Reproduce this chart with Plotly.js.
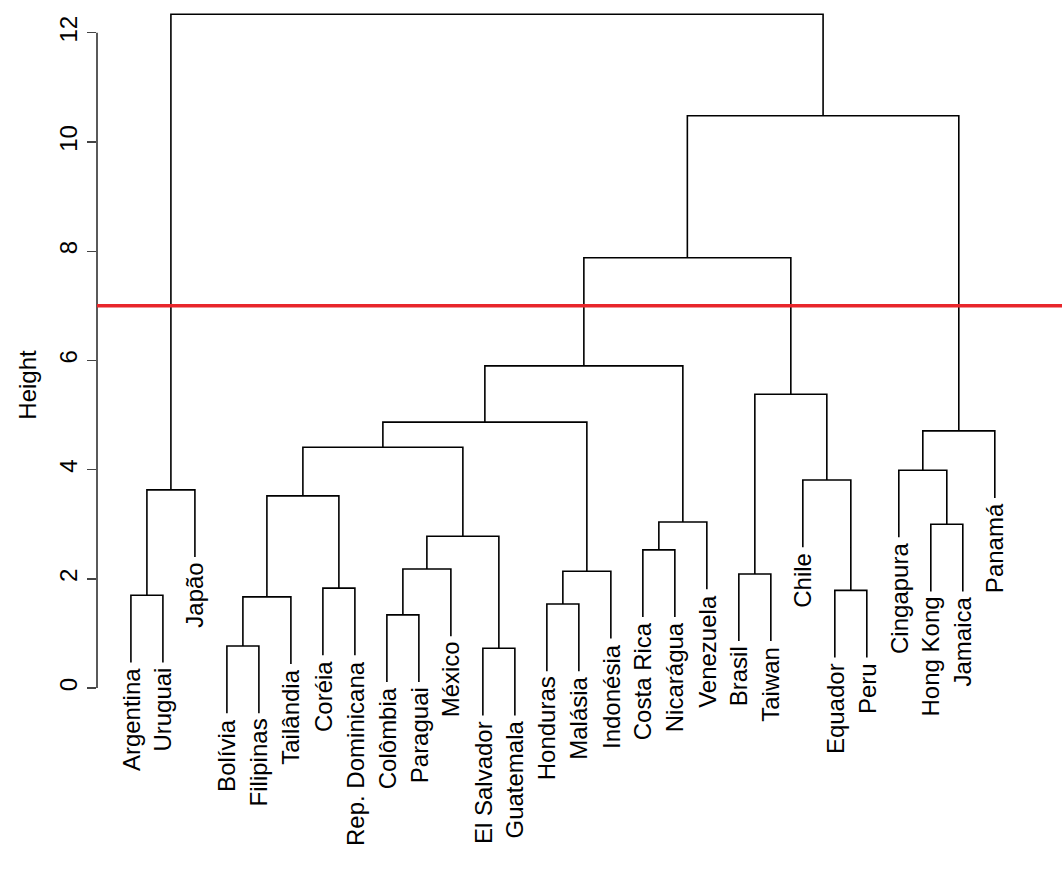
<!DOCTYPE html>
<html>
<head>
<meta charset="utf-8">
<script src="https://cdn.plot.ly/plotly-3.0.1.min.js"></script>
<style>body{margin:0;background:#fff}</style>
</head>
<body>
<div id="chart" style="width:1062px;height:870px"></div>
<script>
// leaf labels in plotted order
const leaves = ["Argentina", "Uruguai", "Japão", "Bolívia", "Filipinas", "Tailândia", "Coréia",
  "Rep. Dominicana", "Colômbia", "Paraguai", "México", "El Salvador", "Guatemala", "Honduras",
  "Malásia", "Indonésia", "Costa Rica", "Nicarágua", "Venezuela", "Brasil", "Taiwan", "Chile",
  "Equador", "Peru", "Cingapura", "Hong Kong", "Jamaica", "Panamá"];

// merges, R hclust style: negative = leaf, positive = earlier merge (1-based)
const mergeLeft  = [-1, 1, -4, 3, -7, 4, -9, 7, -12, 8, 6, -14, 12, 11, -17, 15, 14, -20, -23, -22, 18, 17, -26, -25, 24, 22, 2];
const mergeRight = [-2, -3, -5, -6, -8, 5, -10, -11, -13, 9, 10, -15, -16, 13, -18, -19, 16, -21, -24, 19, 20, 21, -27, 23, -28, 25, 26];
const mergeHeight = [1.70, 3.63, 0.77, 1.67, 1.83, 3.52, 1.34, 2.18, 0.73, 2.78, 4.41, 1.54, 2.14, 4.87,
  2.53, 3.04, 5.90, 2.09, 1.79, 3.81, 5.38, 7.88, 3.00, 3.99, 4.71, 10.48, 12.34];

const cutHeight = 7;
const hang = 1.23;

const nodeX = [], nodeY = [];
const xs = [], ys = [];
const leafBottom = new Array(leaves.length).fill(0);

function childPos(c, h) {
  if (c < 0) {
    const i = -c - 1;
    leafBottom[i] = h - hang;
    return [i + 1, h - hang];
  }
  return [nodeX[c - 1], nodeY[c - 1]];
}

mergeHeight.forEach((h, k) => {
  const [xl, yl] = childPos(mergeLeft[k], h);
  const [xr, yr] = childPos(mergeRight[k], h);
  xs.push(xl, xl, xr, xr, null);
  ys.push(yl, h, h, yr, null);
  nodeX.push((xl + xr) / 2);
  nodeY.push(h);
});

const font = { family: "Liberation Sans, Arial, sans-serif", size: 24, color: "#000" };

const annotations = leaves.map((name, i) => ({
  x: i + 1, y: leafBottom[i] - 0.06, text: name, textangle: -90,
  xanchor: "center", yanchor: "top", showarrow: false, font,
}));

Plotly.newPlot("chart", [
  { x: xs, y: ys, mode: "lines", line: { color: "#000", width: 1.6 }, hoverinfo: "skip", showlegend: false },
], {
  width: 1062, height: 870,
  margin: { l: 97, r: 0, t: 0, b: 100 },
  paper_bgcolor: "#fff", plot_bgcolor: "#fff",
  xaxis: { range: [-0.06, 30.1], visible: false },
  yaxis: {
    range: [-1.5, 12.6], tickvals: [0, 2, 4, 6, 8, 10, 12], ticks: "outside", ticklen: 9,
    tickwidth: 1.3, tickangle: -90, tickfont: font, showgrid: false, zeroline: false, showline: false,
    title: { text: "Height", font, standoff: 12 },
  },
  shapes: [
    { type: "line", xref: "paper", x0: 0, x1: 0, yref: "y", y0: 0, y1: 12, line: { color: "#000", width: 1.3 } },
    { type: "line", xref: "paper", x0: 0, x1: 1, yref: "y", y0: cutHeight, y1: cutHeight, line: { color: "#e8262b", width: 3.5 } },
  ],
  annotations,
}, { displayModeBar: false, staticPlot: true });
</script>
</body>
</html>
